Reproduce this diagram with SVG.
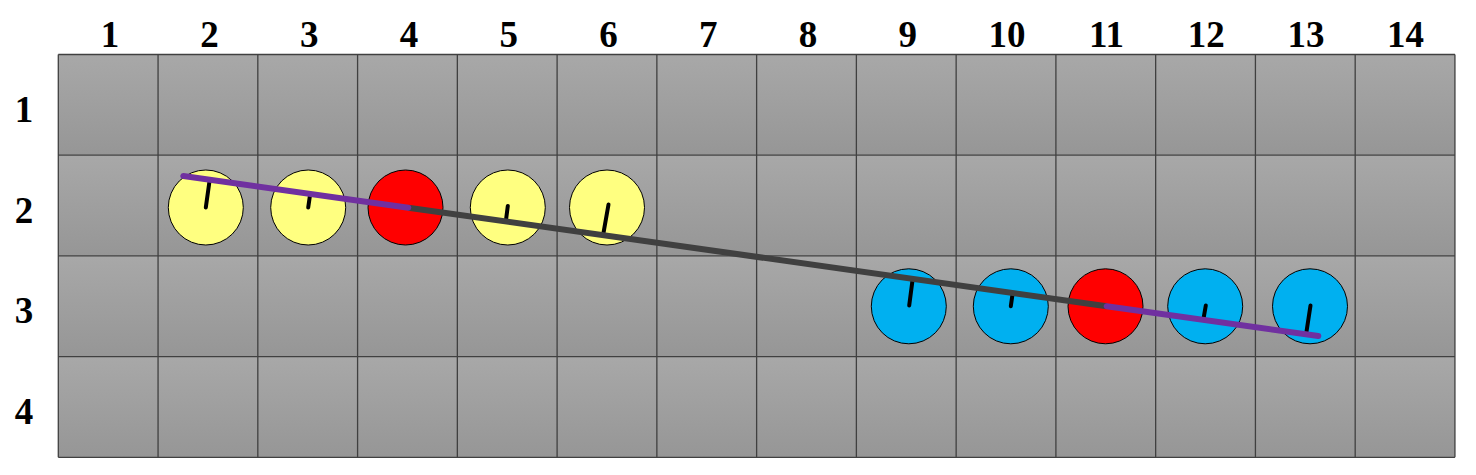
<svg xmlns="http://www.w3.org/2000/svg" width="1476" height="475" viewBox="0 0 1476 475">
<defs>
<linearGradient id="cellg" x1="0" y1="0" x2="0" y2="1">
<stop offset="0" stop-color="#a8a8a8"/>
<stop offset="1" stop-color="#969696"/>
</linearGradient>
</defs>
<style>
.lbl{font-family:"Liberation Serif","Times New Roman",serif;font-weight:bold;font-size:37px;fill:#000;text-anchor:middle}
.row{fill:url(#cellg)}
.gl{stroke:#404040;stroke-width:1.3;fill:none}
.yel{fill:#ffff80;stroke:#000;stroke-width:1}
.blu{fill:#00b0f0;stroke:#000;stroke-width:1}
.red{fill:#ff0000;stroke:#000;stroke-width:1}
.ndl{stroke:#000;stroke-width:4;stroke-linecap:round}
.pur{stroke:#7030a0;stroke-width:6;stroke-linecap:round}
.dk{stroke:#404040;stroke-width:6}
</style>
<rect width="1476" height="475" fill="#fff"/>
<g id="grid">
<rect class="row" x="58.3" y="54.5" width="1396.64" height="100.7"/>
<rect class="row" x="58.3" y="155.2" width="1396.64" height="100.7"/>
<rect class="row" x="58.3" y="255.9" width="1396.64" height="100.7"/>
<rect class="row" x="58.3" y="356.6" width="1396.64" height="100.7"/>
<path class="gl" d="M58.3 54.5H1454.94M58.3 155.2H1454.94M58.3 255.9H1454.94M58.3 356.6H1454.94M58.3 457.3H1454.94
M58.3 54.5V457.3M158.06 54.5V457.3M257.82 54.5V457.3M357.58 54.5V457.3M457.34 54.5V457.3M557.1 54.5V457.3M656.86 54.5V457.3M756.62 54.5V457.3M856.38 54.5V457.3M956.14 54.5V457.3M1055.9 54.5V457.3M1155.66 54.5V457.3M1255.42 54.5V457.3M1355.18 54.5V457.3M1454.94 54.5V457.3"/>
</g>
<g id="col-labels">
<text class="lbl" x="110" y="46.7">1</text>
<text class="lbl" x="209.5" y="46.7">2</text>
<text class="lbl" x="309.2" y="46.7">3</text>
<text class="lbl" x="409" y="46.7">4</text>
<text class="lbl" x="508.7" y="46.7">5</text>
<text class="lbl" x="608.5" y="46.7">6</text>
<text class="lbl" x="708.2" y="46.7">7</text>
<text class="lbl" x="808" y="46.7">8</text>
<text class="lbl" x="907.8" y="46.7">9</text>
<text class="lbl" x="1007" y="46.7">10</text>
<text class="lbl" x="1106.5" y="46.7">11</text>
<text class="lbl" x="1206.3" y="46.7">12</text>
<text class="lbl" x="1306" y="46.7">13</text>
<text class="lbl" x="1405.5" y="46.7">14</text>
</g>
<g id="row-labels">
<text class="lbl" x="24" y="121.7">1</text>
<text class="lbl" x="24" y="222.5">2</text>
<text class="lbl" x="24" y="323.2">3</text>
<text class="lbl" x="24" y="424">4</text>
</g>
<g id="c2-2"><circle class="yel" cx="205.8" cy="207.5" r="37.5"/></g>
<g id="c2-3"><circle class="yel" cx="308.2" cy="207.5" r="37.5"/></g>
<g id="c2-4"><circle class="red" cx="405.5" cy="207.5" r="37.5"/></g>
<g id="c2-5"><circle class="yel" cx="507.8" cy="207.5" r="37.5"/></g>
<g id="c2-6"><circle class="yel" cx="607" cy="207.5" r="37.5"/></g>
<g id="c3-9"><circle class="blu" cx="908.8" cy="306.3" r="37.5"/></g>
<g id="c3-10"><circle class="blu" cx="1010.8" cy="306.3" r="37.5"/></g>
<g id="c3-11"><circle class="red" cx="1105.5" cy="306.3" r="37.5"/></g>
<g id="c3-12"><circle class="blu" cx="1205.2" cy="306.3" r="37.5"/></g>
<g id="c3-13"><circle class="blu" cx="1310" cy="306.3" r="37.5"/></g>
<g id="connectors">
<line class="ndl" x1="205.8" y1="207.5" x2="209.7" y2="179.7"/>
<line class="ndl" x1="308.2" y1="207.5" x2="310.2" y2="193.9"/>
<line class="ndl" x1="507.8" y1="206" x2="505.8" y2="221.5"/>
<line class="ndl" x1="608.5" y1="204.5" x2="603.1" y2="235.2"/>
<line class="ndl" x1="909.2" y1="305.5" x2="912.7" y2="278.8"/>
<line class="ndl" x1="1010.8" y1="306.3" x2="1012.7" y2="293"/>
<line class="ndl" x1="1205.8" y1="305.5" x2="1203.3" y2="319.8"/>
<line class="ndl" x1="1310.5" y1="305.5" x2="1306.1" y2="334.3"/>
<line class="dk" x1="408.3" y1="207.7" x2="1106.7" y2="306.2"/>
<line class="pur" x1="183.3" y1="176" x2="408.3" y2="207.7"/>
<line class="pur" x1="1106.7" y1="306.2" x2="1318.3" y2="336"/>
</g>
</svg>
